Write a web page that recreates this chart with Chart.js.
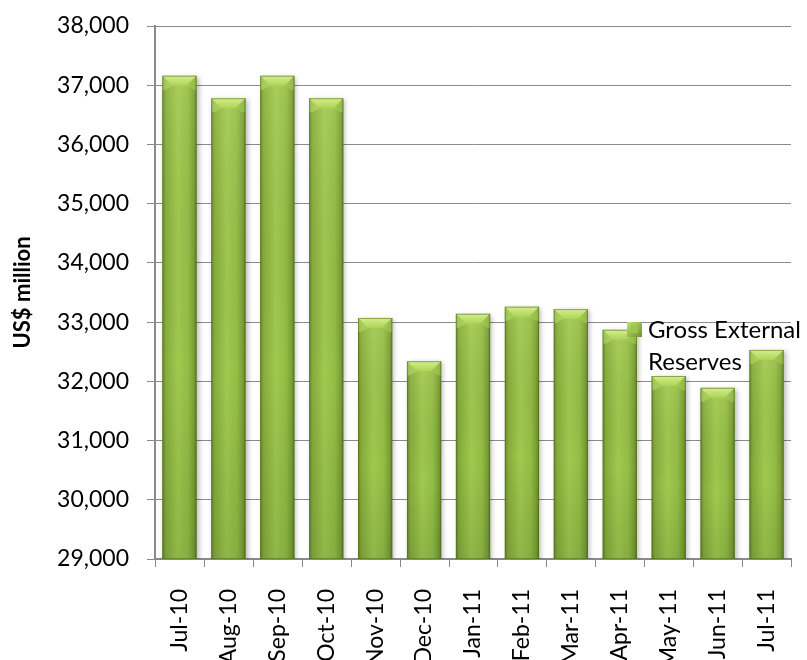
<!DOCTYPE html>
<html>
<head>
<meta charset="utf-8">
<script src="https://cdn.jsdelivr.net/npm/chart.js@4/dist/chart.umd.min.js"></script>
<style>
  html, body { margin: 0; padding: 0; background: #fff; overflow: hidden; }
  #wrap { width: 807px; height: 660px; overflow: hidden; }
</style>
</head>
<body>
<div id="wrap"><canvas id="c" width="807" height="700"></canvas></div>
<script>
// ---- data ----
const categories = ["Jul-10", "Aug-10", "Sep-10", "Oct-10", "Nov-10", "Dec-10", "Jan-11", "Feb-11", "Mar-11", "Apr-11", "May-11", "Jun-11", "Jul-11"];
const reserves = [37160, 36780, 37160, 36780, 33070, 32340, 33140, 33260, 33220, 32870, 32090, 31890, 32530];
const seriesName = ["Gross External", "Reserves"];
const axisTitle = "US$ million";
const yMin = 29000, yMax = 38000, yStep = 1000;

const FONT = "Lato";
const BAR_PCT = 0.7;
const AXIS_GREY = '#8a8a8a';

function barGradient(ctx, x0, x1) {
  const g = ctx.createLinearGradient(x0, 0, x1, 0);
  g.addColorStop(0, '#66862a');
  g.addColorStop(0.1, '#86ac3c');
  g.addColorStop(0.45, '#a0c94f');
  g.addColorStop(0.75, '#94bd46');
  g.addColorStop(0.92, '#7aa034');
  g.addColorStop(1, '#5d7b24');
  return g;
}

const barStyle = {
  id: 'barStyle',
  beforeDatasetsDraw(chart) {
    const ctx = chart.ctx;
    ctx.save();
    ctx.shadowColor = 'rgba(0,0,0,0.28)';
    ctx.shadowBlur = 5;
    ctx.shadowOffsetX = 2;
    ctx.shadowOffsetY = 1;
  },
  afterDatasetsDraw(chart) {
    const ctx = chart.ctx;
    ctx.restore();
    const area = chart.chartArea;
    const meta = chart.getDatasetMeta(0);
    ctx.save();
    ctx.beginPath();
    ctx.rect(area.left, area.top - 2, area.right - area.left, area.bottom - area.top + 2);
    ctx.clip();
    meta.data.forEach((el) => {
      const w = el.width, x0 = el.x - w / 2, x1 = el.x + w / 2;
      const top = el.y, bot = Math.min(el.base, area.bottom);
      const vg = ctx.createLinearGradient(0, top, 0, bot);
      vg.addColorStop(0, 'rgba(255,255,190,0.10)');
      vg.addColorStop(0.6, 'rgba(0,0,0,0)');
      vg.addColorStop(1, 'rgba(0,30,0,0.10)');
      ctx.fillStyle = vg;
      ctx.fillRect(x0, top, w, bot - top);
      const b = 10;
      ctx.beginPath();
      ctx.moveTo(x0, top);
      ctx.lineTo(x1, top);
      ctx.lineTo(x1 - b, top + b);
      ctx.lineTo(x0 + b, top + b);
      ctx.closePath();
      const tg = ctx.createLinearGradient(0, top, 0, top + b);
      tg.addColorStop(0, '#d6ee8e');
      tg.addColorStop(1, '#acd356');
      ctx.fillStyle = tg;
      ctx.fill();
      ctx.beginPath();
      ctx.moveTo(x0, top); ctx.lineTo(x0 + b, top + b); ctx.lineTo(x0 + 3, top + b + 4); ctx.lineTo(x0, top + b + 4); ctx.closePath();
      ctx.fillStyle = 'rgba(185,220,105,0.55)';
      ctx.fill();
      ctx.beginPath();
      ctx.moveTo(x1, top); ctx.lineTo(x1 - b, top + b); ctx.lineTo(x1 - 3, top + b + 4); ctx.lineTo(x1, top + b + 4); ctx.closePath();
      ctx.fillStyle = 'rgba(165,205,85,0.55)';
      ctx.fill();
      ctx.strokeStyle = 'rgba(80,110,25,0.55)';
      ctx.lineWidth = 1;
      ctx.strokeRect(x0 + 0.5, top + 0.5, w - 1, bot - top - 1);
    });
    ctx.restore();
  }
};

// tick marks between categories on the x axis
const xTicks = {
  id: 'xTicks',
  afterDraw(chart) {
    const xs = chart.scales.x;
    const ctx = chart.ctx;
    const step = xs.width / categories.length;
    const y0 = chart.chartArea.bottom;
    ctx.save();
    ctx.strokeStyle = AXIS_GREY;
    ctx.lineWidth = 1;
    for (let i = 0; i <= categories.length; i++) {
      const x = Math.round(xs.getPixelForValue(i) - step / 2) + 0.5;
      ctx.beginPath();
      ctx.moveTo(x, y0);
      ctx.lineTo(x, y0 + 8);
      ctx.stroke();
    }
    ctx.restore();
  }
};

const inlineLegend = {
  id: 'inlineLegend',
  afterDraw(chart) {
    const ctx = chart.ctx;
    ctx.save();
    const mx = 627, my = 322, ms = 15;
    const g = ctx.createLinearGradient(mx, my, mx + ms, my + ms);
    g.addColorStop(0, '#c0e06c');
    g.addColorStop(1, '#6f9230');
    ctx.fillStyle = g;
    ctx.fillRect(mx, my, ms, ms);
    ctx.fillStyle = '#9cc54b';
    ctx.fillRect(mx + 4, my + 4, ms - 8, ms - 8);
    ctx.fillStyle = '#000';
    ctx.font = '24px ' + FONT;
    ctx.textBaseline = 'alphabetic';
    ctx.textAlign = 'left';
    ctx.fillText(seriesName[0], 648, 338);
    ctx.fillText(seriesName[1], 648, 370);
    ctx.restore();
  }
};

new Chart(document.getElementById('c'), {
  type: 'bar',
  data: {
    labels: categories,
    datasets: [{
      label: seriesName.join(' '),
      data: reserves,
      barPercentage: BAR_PCT,
      categoryPercentage: 1,
      borderWidth: 0,
      backgroundColor: (c) => {
        const chart = c.chart;
        const xs = chart.scales && chart.scales.x;
        if (!xs || c.type !== 'data' || !xs.width) return '#8fb842';
        const cx = xs.getPixelForValue(c.dataIndex);
        const w = (xs.width / categories.length) * BAR_PCT;
        return barGradient(chart.ctx, cx - w / 2, cx + w / 2);
      }
    }]
  },
  options: {
    responsive: false,
    animation: false,
    devicePixelRatio: 1,
    layout: { autoPadding: false, padding: { top: 26, right: 16, left: 0, bottom: 0 } },
    plugins: {
      legend: { display: false },
      tooltip: { enabled: false }
    },
    scales: {
      x: {
        offset: true,
        grid: { display: false },
        border: { display: true, color: AXIS_GREY, width: 2 },
        ticks: {
          minRotation: 90, maxRotation: 90, autoSkip: false,
          padding: 22, color: '#000',
          font: { family: FONT, size: 23 }
        },
        afterFit(scale) {
          scale.height = 700 - 559;
          scale.paddingLeft = 0; scale.paddingRight = 0;
        }
      },
      y: {
        min: yMin, max: yMax,
        grid: { color: AXIS_GREY, lineWidth: 1, tickLength: 8, drawTicks: true },
        border: { display: true, color: AXIS_GREY, width: 2 },
        ticks: {
          stepSize: yStep, padding: 18, color: '#000',
          font: { family: FONT, size: 23 },
          callback: (v) => Number(v).toLocaleString('en-US')
        },
        title: {
          display: true, text: axisTitle, color: '#000',
          font: { family: FONT, size: 22, weight: 'bold' },
          padding: { top: 10, bottom: 0 }
        },
        afterFit(scale) {
          scale.width = 155;
          scale.paddingTop = 0; scale.paddingBottom = 0;
        }
      }
    }
  },
  plugins: [barStyle, xTicks, inlineLegend]
});
</script>
</body>
</html>
